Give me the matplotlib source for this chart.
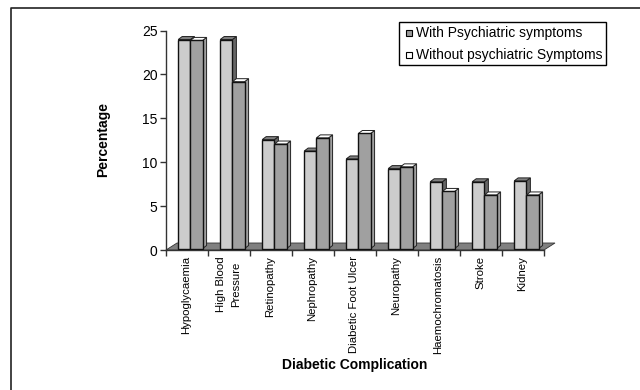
import matplotlib
matplotlib.use("Agg")
import matplotlib.pyplot as plt
from matplotlib.lines import Line2D
from matplotlib.patches import Polygon, Rectangle

categories = ["Hypoglycaemia", "High Blood\nPressure", "Retinopathy", "Nephropathy",
              "Diabetic Foot Ulcer", "Neuropathy", "Haemochromatosis", "Stroke", "Kidney"]
with_psych = [23.8, 23.8, 12.4, 11.1, 10.2, 9.1, 7.6, 7.6, 7.7]
without_psych = [23.7, 19.0, 11.9, 12.6, 13.1, 9.3, 6.5, 6.1, 6.1]
yticks = [0, 5, 10, 15, 20, 25]

plt.rcParams["font.family"] = ["Liberation Sans", "DejaVu Sans"]
W, H = 640, 390
fig = plt.figure(figsize=(W / 100, H / 100), dpi=100)
fig.add_artist(Line2D([11 / W, 11 / W, 1], [0, 1 - 8 / H, 1 - 8 / H], transform=fig.transFigure,
                      color="#222222", lw=1.2))
ax = fig.add_axes([166 / W, 1 - 250 / H, 378 / W, 219.5 / H])
ax.set_xlim(0, 9)
ax.set_ylim(0, 25)

dx = 4 / 42
dy = 3 / 8.78
base = 1.5 / 8.78
floor_dx = 11 / 42
floor_dy = 7 / 8.78
ax.add_patch(Polygon([(0, 0), (9, 0), (9 + floor_dx, floor_dy), (floor_dx, floor_dy)],
                     fc="#808080", ec="#333333", lw=0.6, clip_on=False, zorder=1))

start = 0.29
width = 12.2 / 42
z = 2
def bar3d(x, v, front, top, side):
    global z
    y1 = base + v
    ax.bar(x, v, width, bottom=base, align="edge", fc=front, ec="#111111", lw=1, zorder=z + 1)
    ax.add_patch(Polygon([(x + width, base), (x + width + dx, base + dy),
                          (x + width + dx, y1 + dy), (x + width, y1)],
                         fc=side, ec="#222222", lw=0.7, zorder=z, clip_on=False))
    ax.add_patch(Polygon([(x, y1), (x + dx, y1 + dy), (x + width + dx, y1 + dy), (x + width, y1)],
                         fc=top, ec="#222222", lw=0.7, zorder=z, clip_on=False))
    z += 2

for i, (a, b) in enumerate(zip(with_psych, without_psych)):
    bar3d(i + start, a, "#cccccc", "#808080", "#666666")
    bar3d(i + start + width, b, "#a0a0a0", "#ffffff", "#a0a0a0")

ax.set_xticks(range(10))
ax.set_xticklabels([])
for i, c in enumerate(categories):
    ax.text(i + 0.48, -0.7, c, rotation=90, ha="center", va="top", ma="center",
            fontsize=8.2, linespacing=1.65, color="black")
ax.set_yticks(yticks)
ax.tick_params(axis="y", labelsize=10, length=4, width=1, color="#333333", pad=2)
ax.tick_params(axis="x", length=4, width=1, color="#333333")
for s in ("top", "right"):
    ax.spines[s].set_visible(False)
for s in ("left", "bottom"):
    ax.spines[s].set_color("#333333")
    ax.spines[s].set_linewidth(1)
    ax.spines[s].set_zorder(1.5)

fig.text(103 / W, 1 - 139 / H, "Percentage", rotation=90, ha="center", va="center",
         fontsize=10, fontweight="bold")
fig.text(354.5 / W, 1 - 365 / H, "Diabetic Complication", ha="center", va="center",
         fontsize=10, fontweight="bold")

# legend
fig.patches.append(Rectangle((399 / W, 1 - 65 / H), 207 / W, 43 / H, transform=fig.transFigure,
                             fc="white", ec="black", lw=1, zorder=5))
fig.patches.append(Rectangle((406 / W, 1 - 36 / H), 6 / W, 6 / H, transform=fig.transFigure,
                             fc="#999999", ec="black", lw=0.8, zorder=6))
fig.patches.append(Rectangle((406 / W, 1 - 58 / H), 6 / W, 6 / H, transform=fig.transFigure,
                             fc="white", ec="black", lw=0.8, zorder=6))
fig.text(416 / W, 1 - 32.5 / H, "With Psychiatric symptoms", ha="left", va="center", fontsize=10, zorder=7)
fig.text(416 / W, 1 - 55 / H, "Without psychiatric Symptoms", ha="left", va="center", fontsize=10, zorder=7)

fig.savefig("out.png", dpi=100)
